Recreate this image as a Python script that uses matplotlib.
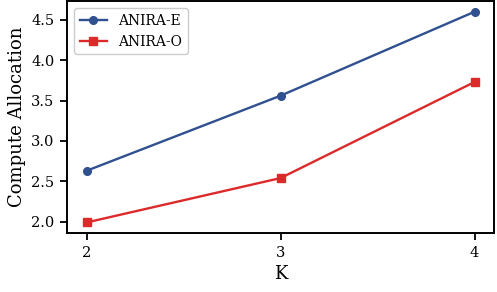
import matplotlib
matplotlib.use("Agg")
import matplotlib.pyplot as plt

# values
k_values = [2, 3, 4]
anira_e = [2.63, 3.56, 4.60]
anira_o = [1.99, 2.54, 3.73]

plt.rcParams['font.family'] = 'DejaVu Serif'

fig, ax = plt.subplots(figsize=(4.97, 2.92), dpi=100)
ax.plot(k_values, anira_e, marker='o', color='#30508f', lw=1.7, markersize=5.5, label='ANIRA-E')
ax.plot(k_values, anira_o, marker='s', color='#dc2a2a', lw=1.7, markersize=5.5, label='ANIRA-O')

ax.set_xticks(k_values)
ax.set_xlabel('K', fontsize=13, labelpad=4)
ax.set_ylabel('Compute Allocation', fontsize=13, labelpad=4)
ax.tick_params(labelsize=10.5, width=1.3, length=5, pad=4)
for s in ax.spines.values():
    s.set_linewidth(1.4)
ax.legend(loc='upper left', fontsize=10, framealpha=1, edgecolor='#cccccc')

fig.subplots_adjust(left=0.135, right=0.994, top=0.996, bottom=0.202)
fig.savefig('out.png', dpi=100)
